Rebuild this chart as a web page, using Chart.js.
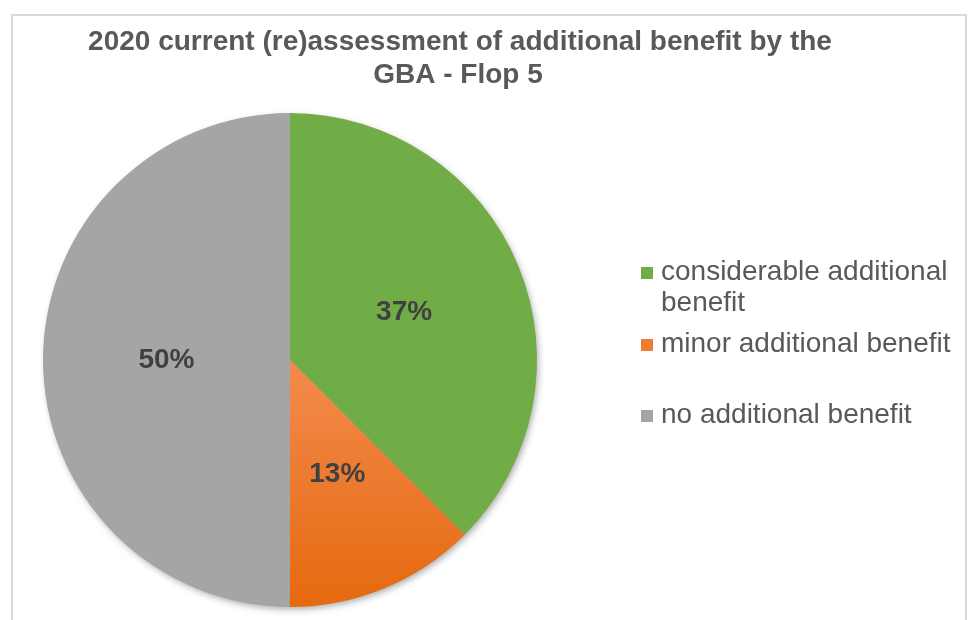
<!DOCTYPE html>
<html>
<head>
<meta charset="utf-8">
<script src="https://cdn.jsdelivr.net/npm/chart.js@4.4.1/dist/chart.umd.min.js"></script>
<style>
html,body{margin:0;padding:0;background:#fff;}
#wrap{width:968px;height:620px;position:relative;}
</style>
</head>
<body>
<div id="wrap"><canvas id="c" width="968" height="620"></canvas></div>
<script>
const titleLines = ["2020 current (re)assessment of additional benefit by the", "GBA - Flop 5"];
const categories = ["considerable additional benefit", "minor additional benefit", "no additional benefit"];
const legendLines = [["considerable additional", "benefit"], ["minor additional benefit"], ["no additional benefit"]];
const values = [37.5, 12.5, 50];
const percentLabels = ["37%", "13%", "50%"];

const FONT = "'Liberation Sans', Arial, sans-serif";

function sliceColor(ctx) {
  const i = ctx.dataIndex;
  const chart = ctx.chart;
  const a = chart.chartArea;
  if (i === 0) return '#70ad47';
  if (i === 2) return '#a5a5a5';
  if (!a) return '#ed7d31';
  const g = chart.ctx.createLinearGradient(0, a.top, 0, a.bottom);
  g.addColorStop(0, '#ffa36a');
  g.addColorStop(0.5, '#f38b4e');
  g.addColorStop(1, '#e5690f');
  return g;
}

const decor = {
  id: 'decor',
  beforeDatasetsDraw(chart) {
    const ctx = chart.ctx;
    const arc = chart.getDatasetMeta(0).data[0];
    if (!arc) return;
    ctx.save();
    ctx.shadowColor = 'rgba(0,0,0,0.35)';
    ctx.shadowBlur = 7;
    ctx.shadowOffsetX = 2;
    ctx.shadowOffsetY = 3;
    ctx.fillStyle = '#a5a5a5';
    ctx.beginPath();
    ctx.arc(arc.x, arc.y, arc.outerRadius - 1, 0, Math.PI * 2);
    ctx.fill();
    ctx.restore();
  },
  afterDraw(chart) {
    const ctx = chart.ctx;
    ctx.save();
    // frame
    ctx.strokeStyle = '#d9d9d9';
    ctx.lineWidth = 2;
    ctx.strokeRect(12, 15, 954, 620);
    // title
    ctx.fillStyle = '#595959';
    ctx.font = 'bold 28px ' + FONT;
    ctx.textAlign = 'center';
    ctx.textBaseline = 'middle';
    ctx.fillText(titleLines[0], 460, 42);
    ctx.fillText(titleLines[1], 458, 75);
    // data labels
    const meta = chart.getDatasetMeta(0);
    ctx.fillStyle = '#404040';
    ctx.font = 'bold 28px ' + FONT;
    meta.data.forEach((el, i) => {
      const p = el.tooltipPosition();
      ctx.fillText(percentLabels[i], p.x, p.y);
    });
    // legend
    const colors = ['#70ad47', '#ed7d31', '#a5a5a5'];
    const ys = [272, 344, 415];
    ctx.font = '28px ' + FONT;
    ctx.textAlign = 'left';
    legendLines.forEach((lines, i) => {
      ctx.fillStyle = colors[i];
      ctx.fillRect(641, ys[i] - 5, 12, 12);
      ctx.fillStyle = '#595959';
      lines.forEach((t, j) => ctx.fillText(t, 661, ys[i] + j * 31));
    });
    ctx.restore();
  }
};

new Chart(document.getElementById('c'), {
  type: 'pie',
  data: {
    labels: categories,
    datasets: [{
      data: values,
      backgroundColor: sliceColor,
      borderWidth: 0
    }]
  },
  options: {
    responsive: false,
    animation: false,
    layout: { padding: { left: 43, right: 431, top: 113, bottom: 13 } },
    plugins: {
      legend: { display: false },
      title: { display: false },
      tooltip: { enabled: false }
    }
  },
  plugins: [decor]
});
</script>
</body>
</html>
